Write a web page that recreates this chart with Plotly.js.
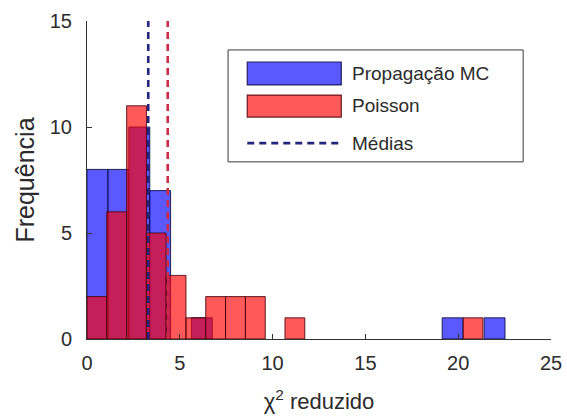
<!DOCTYPE html>
<html>
<head>
<meta charset="utf-8">
<script src="https://cdn.plot.ly/plotly-3.0.1.min.js"></script>
<style>html,body{margin:0;padding:0;background:#fff;}#chart{width:567px;height:419px;}</style>
</head>
<body>
<div id="chart"></div>
<script>
// Histogram of reduced chi-square: MC propagation (non-empty bins)
const mcBinCenters = [0.56, 1.69, 2.82, 3.94, 6.19, 19.70, 21.96];
const mcCounts     = [8, 8, 10, 7, 1, 1, 1];
const mcBinWidth   = 1.126;

// Poisson (non-empty bins)
const poissonBinCenters = [0.53, 1.60, 2.67, 3.73, 4.80, 5.87, 6.93, 8.00, 9.07, 11.20, 20.80];
const poissonCounts     = [2, 6, 11, 5, 3, 1, 2, 2, 2, 1, 1];
const poissonBinWidth   = 1.067;

// Means
const meanMC = 3.30;
const meanPoisson = 4.35;

const xTicks = [0, 5, 10, 15, 20, 25];
const yTicks = [0, 5, 10, 15];
const yMax = 15;

const legendLabels = ['Propagação MC', 'Poisson', 'Médias'];

const FONT = '"Liberation Sans", Arial, Helvetica, sans-serif';
const TXT = '#2b2b2b';

const traces = [
  {
    type: 'bar', x: mcBinCenters, y: mcCounts,
    width: mcBinCenters.map(() => mcBinWidth),
    marker: {color: 'rgba(0,0,255,0.65)', line: {color: 'rgba(10,10,60,0.85)', width: 1}},
    name: legendLabels[0], showlegend: false
  },
  {
    type: 'bar', x: poissonBinCenters, y: poissonCounts,
    width: poissonBinCenters.map(() => poissonBinWidth),
    marker: {color: 'rgba(255,0,0,0.65)', line: {color: 'rgba(70,0,10,0.85)', width: 1}},
    name: legendLabels[1], showlegend: false
  },
  {
    type: 'scatter', mode: 'lines', x: [meanMC, meanMC], y: [0, yMax],
    line: {color: '#24237d', width: 2.6, dash: '7px,5px'}, showlegend: false, cliponaxis: false
  },
  {
    type: 'scatter', mode: 'lines', x: [meanPoisson, meanPoisson], y: [0, yMax],
    line: {color: '#cc2a45', width: 2.6, dash: '7px,5px'}, showlegend: false, cliponaxis: false
  }
];

// Custom legend (paper coords)
const shapes = [
  {type: 'rect', xref: 'paper', yref: 'paper', x0: 0.304, x1: 0.940, y0: 0.557, y1: 0.909,
   fillcolor: '#ffffff', line: {color: '#3a3a3a', width: 1}},
  {type: 'rect', xref: 'paper', yref: 'paper', x0: 0.3454, x1: 0.548, y0: 0.799, y1: 0.871,
   fillcolor: 'rgba(0,0,255,0.65)', line: {color: 'rgba(20,20,80,0.9)', width: 1.2}},
  {type: 'rect', xref: 'paper', yref: 'paper', x0: 0.3454, x1: 0.548, y0: 0.698, y1: 0.767,
   fillcolor: 'rgba(255,0,0,0.65)', line: {color: 'rgba(90,10,20,0.9)', width: 1.2}},
  {type: 'line', xref: 'paper', yref: 'paper', x0: 0.3454, x1: 0.548, y0: 0.616, y1: 0.616,
   line: {color: '#24237d', width: 2.6, dash: '7px,5px'}}
];

const annotations = [
  {xref: 'paper', yref: 'paper', x: 0.567, y: 0.835, text: legendLabels[0]},
  {xref: 'paper', yref: 'paper', x: 0.567, y: 0.733, text: legendLabels[1]},
  {xref: 'paper', yref: 'paper', x: 0.567, y: 0.616, text: legendLabels[2]}
].map(a => Object.assign(a, {showarrow: false, xanchor: 'left', yanchor: 'middle',
  font: {family: FONT, size: 19, color: TXT}}));

const layout = {
  width: 567, height: 419,
  margin: {l: 87, r: 16, t: 21, b: 80},
  paper_bgcolor: '#ffffff', plot_bgcolor: '#ffffff',
  barmode: 'overlay', bargap: 0,
  font: {family: FONT, size: 20, color: TXT},
  xaxis: {
    range: [0, 25], tickvals: xTicks, ticktext: xTicks.map(String),
    ticks: 'inside', ticklen: 5, tickcolor: '#333', tickwidth: 1,
    showline: true, linecolor: '#333', linewidth: 1, mirror: false,
    showgrid: false, zeroline: false,
    tickfont: {family: FONT, size: 20, color: TXT}, ticklabelstandoff: 6,
    title: {text: 'χ<sup>2</sup> reduzido', font: {family: FONT, size: 22, color: TXT}, standoff: 20}
  },
  yaxis: {
    range: [0, yMax], tickvals: yTicks, ticktext: yTicks.map(String),
    ticks: 'inside', ticklen: 5, tickcolor: '#333', tickwidth: 1,
    showline: true, linecolor: '#333', linewidth: 1, mirror: false,
    showgrid: false, zeroline: false,
    tickfont: {family: FONT, size: 20, color: TXT}, ticklabelstandoff: 10,
    title: {text: 'Frequência', font: {family: FONT, size: 25, color: TXT}, standoff: 8}
  },
  shapes: shapes,
  annotations: annotations,
  showlegend: false
};

Plotly.newPlot('chart', traces, layout, {staticPlot: true, displayModeBar: false});
</script>
</body>
</html>
